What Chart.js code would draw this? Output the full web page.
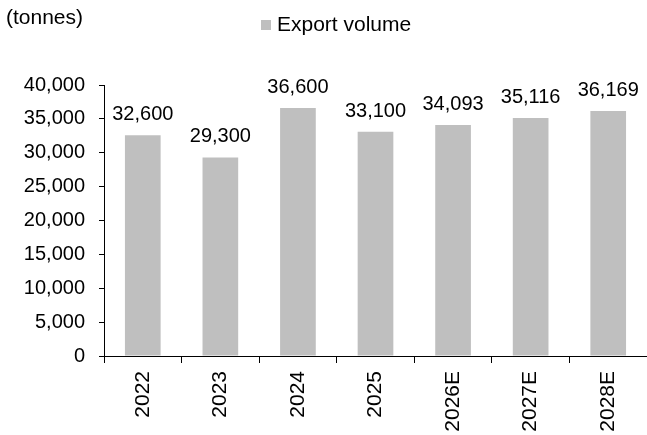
<!DOCTYPE html>
<html>
<head>
<meta charset="utf-8">
<script src="https://cdn.jsdelivr.net/npm/chart.js@4.4.1/dist/chart.umd.min.js"></script>
<style>
    html, body { margin: 0; padding: 0; background: #fff; }
    #wrap { width: 647px; height: 435px; position: relative; }
</style>
</head>
<body>
<div id="wrap"><canvas id="chart"></canvas></div>
<script>
const categories = ["2022", "2023", "2024", "2025", "2026E", "2027E", "2028E"];
const exportVolume = [32600, 29300, 36600, 33100, 34093, 35116, 36169];
const seriesLabel = "Export volume";
const unitLabel = "(tonnes)";
const yTicks = [0, 5000, 10000, 15000, 20000, 25000, 30000, 35000, 40000];

const FONT = "'Liberation Sans', Arial, sans-serif";
const fmt = (v) => v.toLocaleString("en-US");

// value labels above each bar
const barValues = {
    id: "barValues",
    afterDatasetsDraw(chart) {
        const ctx = chart.ctx;
        const meta = chart.getDatasetMeta(0);
        const data = chart.data.datasets[0].data;
        ctx.save();
        ctx.font = "20px " + FONT;
        ctx.fillStyle = "#000";
        ctx.textAlign = "center";
        ctx.textBaseline = "alphabetic";
        meta.data.forEach((bar, i) => {
            ctx.fillText(fmt(data[i]), bar.x, bar.y - 15);
        });
        ctx.restore();
    }
};

// unit caption and legend on the top line
const header = {
    id: "header",
    afterDraw(chart) {
        const ctx = chart.ctx;
        const ds = chart.data.datasets[0];
        ctx.save();
        ctx.font = "21px " + FONT;
        ctx.fillStyle = "#000";
        ctx.textBaseline = "middle";
        ctx.textAlign = "left";
        ctx.fillText(unitLabel, 6, 18);
        ctx.fillStyle = ds.backgroundColor;
        ctx.fillRect(261, 20, 10, 10);
        ctx.fillStyle = "#000";
        ctx.fillText(ds.label, 277, 25);
        ctx.restore();
    }
};

new Chart(document.getElementById("chart"), {
    type: "bar",
    data: {
        labels: categories,
        datasets: [{
            label: seriesLabel,
            data: exportVolume,
            backgroundColor: "#bfbfbf",
            borderWidth: 0,
            categoryPercentage: 1,
            barPercentage: 0.46
        }]
    },
    options: {
        responsive: true,
        maintainAspectRatio: false,
        animation: false,
        devicePixelRatio: 1,
        layout: { padding: { top: 85, left: 0, right: 0, bottom: 0 } },
        plugins: {
            legend: { display: false },
            tooltip: { enabled: false }
        },
        scales: {
            x: {
                grid: {
                    offset: true,
                    drawOnChartArea: false,
                    drawTicks: true,
                    tickLength: 7,
                    color: "#000"
                },
                border: { color: "#000", width: 1 },
                ticks: {
                    color: "#000",
                    font: { family: FONT, size: 21 },
                    minRotation: 90,
                    maxRotation: 90,
                    padding: 8,
                    autoSkip: false
                },
                afterFit: (scale) => { scale.height = 79; }
            },
            y: {
                min: 0,
                max: 40000,
                afterBuildTicks: (scale) => { scale.ticks = yTicks.map(v => ({ value: v })); },
                grid: {
                    drawOnChartArea: false,
                    drawTicks: true,
                    tickLength: 5,
                    color: "#000"
                },
                border: { color: "#000", width: 1 },
                ticks: {
                    color: "#000",
                    font: { family: FONT, size: 20 },
                    padding: 14,
                    callback: (v) => fmt(v)
                },
                afterFit: (scale) => { scale.width = 104; }
            }
        }
    },
    plugins: [barValues, header]
});
</script>
</body>
</html>
